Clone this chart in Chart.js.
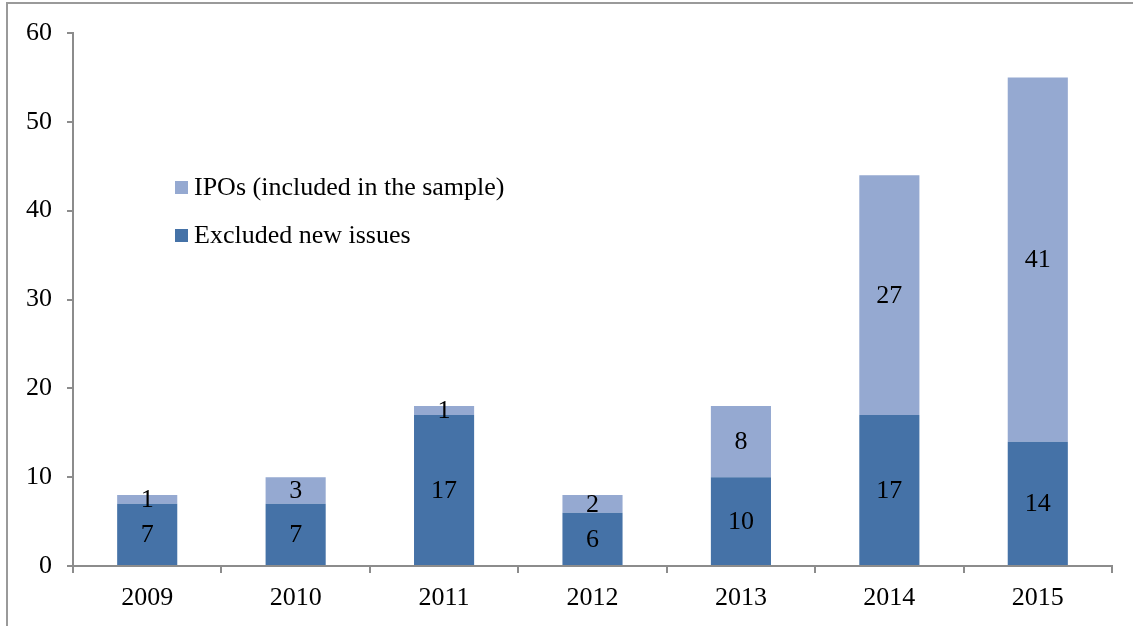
<!DOCTYPE html>
<html lang="en">
<head>
    <meta charset="UTF-8">
    <title>New issues by year</title>
    <script src="https://cdn.jsdelivr.net/npm/chart.js"></script>
    <style>
        html, body { margin: 0; padding: 0; background: #fff; }
        #wrap { position: relative; width: 1133px; height: 626px; }
        #frame {
            position: absolute; left: 6px; top: 2px; right: -4px; bottom: -4px;
            border-left: 2px solid #9a9a9a; border-top: 2px solid #9a9a9a;
            pointer-events: none;
        }
        #grafico { position: absolute; left: 0; top: 0; }
    </style>
</head>
<body>
<div id="wrap">
    <canvas id="grafico" width="1133" height="626"></canvas>
    <div id="frame"></div>
</div>
<script>
    // Years and issue counts
    const anni = ['2009', '2010', '2011', '2012', '2013', '2014', '2015'];
    const esclusi = [7, 7, 17, 6, 10, 17, 14];
    const ipo = [1, 3, 1, 2, 8, 27, 41];

    const coloreScuro = '#4572a7';
    const coloreChiaro = '#95a9d1';
    const grigio = '#8c8c8c';
    const fontSerif = '"Liberation Serif", "Times New Roman", serif';

    // Values written in the middle of each stacked segment
    const etichette = {
        id: 'etichette',
        afterDatasetsDraw(chart) {
            const ctx = chart.ctx;
            ctx.save();
            ctx.font = '26px ' + fontSerif;
            ctx.fillStyle = '#000';
            ctx.textAlign = 'center';
            ctx.textBaseline = 'middle';
            chart.data.datasets.forEach((ds, i) => {
                chart.getDatasetMeta(i).data.forEach((bar, j) => {
                    const p = bar.getProps(['x', 'y', 'base'], true);
                    ctx.fillText(String(ds.data[j]), p.x, (p.y + p.base) / 2 + 1);
                });
            });
            ctx.restore();
        }
    };

    // Legend inside the plot, top dataset first
    const legenda = {
        id: 'legenda',
        afterDraw(chart) {
            const ctx = chart.ctx;
            ctx.save();
            ctx.font = '26px ' + fontSerif;
            ctx.textBaseline = 'middle';
            const voci = chart.data.datasets.slice().reverse();
            voci.forEach((ds, k) => {
                const y = 188 + k * 48;
                ctx.fillStyle = ds.backgroundColor;
                ctx.fillRect(175, y - 7, 13, 13);
                ctx.fillStyle = '#000';
                ctx.fillText(ds.label, 194, y);
            });
            ctx.restore();
        }
    };

    const grafico = new Chart(document.getElementById('grafico'), {
        type: 'bar',
        data: {
            labels: anni,
            datasets: [{
                label: 'Excluded new issues',
                data: esclusi,
                backgroundColor: coloreScuro
            }, {
                label: 'IPOs (included in the sample)',
                data: ipo,
                backgroundColor: coloreChiaro
            }]
        },
        options: {
            responsive: false,
            animation: false,
            layout: { padding: { left: 0, right: 21, top: 33, bottom: 0 } },
            datasets: { bar: { categoryPercentage: 1, barPercentage: 0.405 } },
            plugins: {
                legend: { display: false },
                tooltip: { enabled: false }
            },
            scales: {
                x: {
                    stacked: true,
                    grid: { offset: true, drawOnChartArea: false, tickLength: 7, color: grigio, lineWidth: 2 },
                    border: { color: grigio, width: 2 },
                    ticks: { color: '#000', font: { family: fontSerif, size: 26 }, padding: 10 },
                    afterFit(scale) { scale.height = 60; }
                },
                y: {
                    stacked: true,
                    min: 0,
                    max: 60,
                    ticks: { stepSize: 10, color: '#000', font: { family: fontSerif, size: 26 }, padding: 15 },
                    grid: { drawOnChartArea: false, tickLength: 6, color: grigio, lineWidth: 2 },
                    border: { color: grigio, width: 2 },
                    afterFit(scale) { scale.width = 73; }
                }
            }
        },
        plugins: [etichette, legenda]
    });
</script>
</body>
</html>
